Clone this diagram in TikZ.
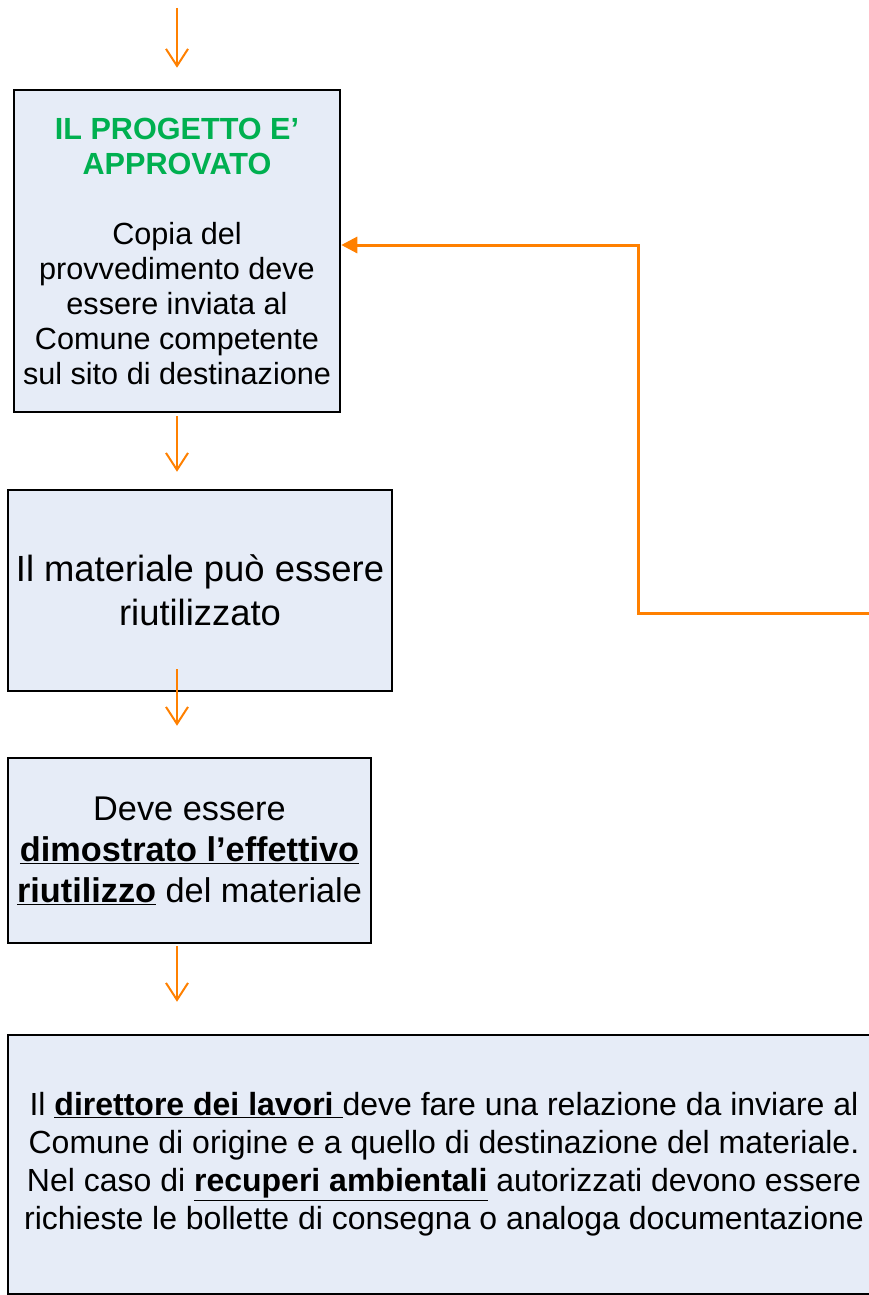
\documentclass[tikz,border=0pt]{standalone}
\usepackage{fontspec}
\setmainfont{Liberation Sans}
\usepackage{tikz}
\usetikzlibrary{arrows.meta,positioning}

\definecolor{boxfill}{RGB}{230,236,247}
\definecolor{flowline}{RGB}{255,128,0}
\definecolor{titlegreen}{RGB}{0,176,80}

\tikzset{
	stepbox/.style={draw=black, line width=2.5pt, fill=boxfill, align=center, inner sep=0pt},
	flow/.style={draw=flowline, line width=2pt, -{Straight Barb[length=17pt,width=22pt]}},
	loopback/.style={draw=flowline, line width=3pt, -{Triangle[length=16pt,width=16pt]}}
}

\begin{document}
\begin{tikzpicture}[x=1pt,y=-1pt]
	% Page frame
	\useasboundingbox (0,0) rectangle (868,1295);
	% Draw boxes
	\node[stepbox, minimum width=326pt, minimum height=322pt, font=\fontsize{30.6}{35}\selectfont] (approved) at (177,251)
		{{\color{titlegreen}\bfseries IL PROGETTO E’}\\{\color{titlegreen}\bfseries APPROVATO}\\[35pt]
		Copia del\\provvedimento deve\\essere inviata al\\Comune competente\\sul sito di destinazione};
	\node[stepbox, minimum width=384pt, minimum height=201pt, font=\fontsize{36.4}{44}\selectfont] (reuse) at (200,590.5)
		{Il materiale può essere\\riutilizzato};
	\node[stepbox, minimum width=363pt, minimum height=185pt, font=\fontsize{34.3}{41}\selectfont] (proof) at (189.5,850.5)
		{Deve essere\\\underline{\textbf{dimostrato l’effettivo}}\\\underline{\textbf{riutilizzo}} del materiale};
	\node[stepbox, minimum width=872pt, minimum height=259pt, font=\fontsize{32}{38}\selectfont] (report) at (444,1164.5)
		{Il \underline{\textbf{direttore dei lavori }}deve fare una relazione da inviare al\\
		Comune di origine e a quello di destinazione del materiale.\\
		Nel caso di \underline{\textbf{recuperi ambientali}} autorizzati devono essere\\
		richieste le bollette di consegna o analoga documentazione};
	% Draw flow arrows
	\coordinate (entry) at (177,8);
	\draw[flow, shorten >=21pt] (entry) -- (approved.north);
	\draw[flow, shorten <=3pt, shorten >=17pt] (approved.south) -- (reuse.north -| approved.south);
	\draw[flow, shorten <=-23pt, shorten >=31pt] (reuse.south -| approved.south) -- (proof.north -| approved.south);
	\draw[flow, shorten <=2pt, shorten >=32pt] (proof.south -| approved.south) -- (report.north -| approved.south);
	% Draw return line from the right
	\coordinate (loopin) at (872,613);
	\coordinate (bend) at (638,613);
	\draw[loopback] (loopin) -- (bend) |- ([yshift=6pt]approved.east);
\end{tikzpicture}
\end{document}
